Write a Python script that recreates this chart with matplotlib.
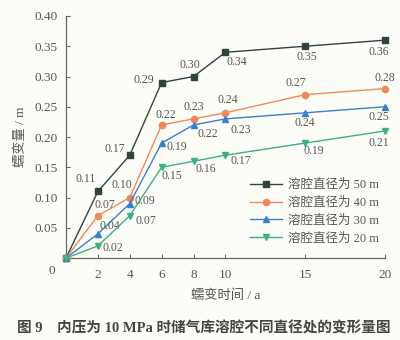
import matplotlib
matplotlib.use('Agg')
from matplotlib import pyplot as plt

plt.rcParams['font.family'] = ['Liberation Serif', 'Noto Sans CJK SC']

years = [0, 2, 4, 6, 8, 10, 15, 20]
d50 = [0, 0.11, 0.17, 0.29, 0.30, 0.34, 0.35, 0.36]
d40 = [0, 0.07, 0.10, 0.22, 0.23, 0.24, 0.27, 0.28]
d30 = [0, 0.04, 0.09, 0.19, 0.22, 0.23, 0.24, 0.25]
d20 = [0, 0.02, 0.07, 0.15, 0.16, 0.17, 0.19, 0.21]
names = ['溶腔直径为 50 m', '溶腔直径为 40 m', '溶腔直径为 30 m', '溶腔直径为 20 m']
xticks = [2, 4, 6, 8, 10, 15, 20]
yticks = [0.05, 0.10, 0.15, 0.20, 0.25, 0.30, 0.35, 0.40]

# label offsets in pixels (dx, dy) for points 1..7
offs50 = [(-12, 12), (-15, 6), (-18, 3), (-4, 12), (11, -10), (2, -11), (-6, -12)]
offs40 = [(7, 11), (-8, 13), (4, 10), (0, 12), (2, 13), (-9, 12), (0, 11)]
offs30 = [(12, 8), (15, 3), (15, -4), (14, -9), (15, -11), (0, -10), (-6, -10)]
offs20 = [(15, -2), (16, -5), (10, -9), (12, -8), (15, -6), (9, -8), (-6, -12)]

series = [
    (d50, '#2f4535', 's', offs50),
    (d40, '#f2875a', 'o', offs40),
    (d30, '#3b7fd0', '^', offs30),
    (d20, '#3bb27a', 'v', offs20),
]

bg = '#fdfdf8'
txt = '#555555'
fig = plt.figure(figsize=(4, 3.4), dpi=100, facecolor=bg)
ax = fig.add_axes([0.165, 0.241, 0.797, 0.712], facecolor=bg)

for (vals, col, mk, offs), nm in zip(series, names):
    ax.plot(years, vals, color=col, marker=mk, markersize=4.5, linewidth=1.0,
            label=nm, clip_on=False, zorder=3)
    for x, y, (dx, dy) in zip(years[1:], vals[1:], offs):
        ax.annotate('%.2f' % y, (x, y), xytext=(dx, dy), textcoords='offset pixels',
                    ha='center', va='center', fontsize=8.5, color=txt)

ax.set_xlim(0, 20)
ax.set_ylim(0, 0.40)
ax.set_xticks(xticks)
ax.set_yticks(yticks)
ax.set_yticklabels(['%.2f' % v for v in yticks])
ax.tick_params(direction='in', length=3, colors='#666666', labelcolor=txt, labelsize=9.5, pad=6)
ax.tick_params(axis='x', pad=8)
for s in ['top', 'right']:
    ax.spines[s].set_visible(False)
for s in ['left', 'bottom']:
    ax.spines[s].set_color('#666666')
    ax.spines[s].set_linewidth(0.9)
ax.text(-0.035, -0.03, '0', transform=ax.transAxes, ha='right', va='top', fontsize=9.5, color=txt)

ax.set_xlabel('蠕变时间 / a', fontsize=9.5, color=txt, labelpad=6)
ax.set_ylabel('蠕变量 / m', fontsize=9.5, color=txt, labelpad=5)

leg = ax.legend(loc='lower right', bbox_to_anchor=(1.01, 0.02), frameon=False,
                fontsize=9, handlelength=2.6, labelspacing=0.45, borderpad=0.2,
                handletextpad=0.5)
for t in leg.get_texts():
    t.set_color(txt)

fig.text(0.51, 0.035, '图 9　内压为 10 MPa 时储气库溶腔不同直径处的变形量图',
         ha='center', va='center', fontsize=10.5, fontweight='bold', color='#444444')

fig.savefig('out.png', dpi=100, facecolor=bg)
